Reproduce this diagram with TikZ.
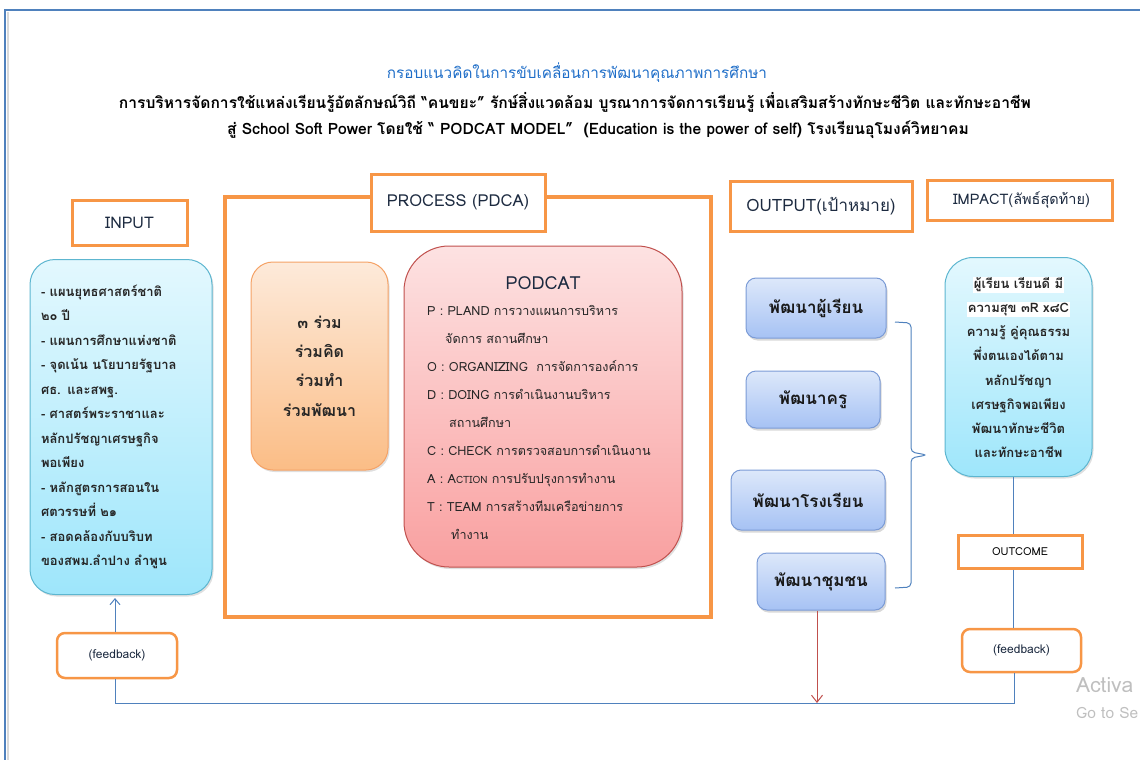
\documentclass[tikz,border=0pt]{standalone}
\usepackage{fontspec}
\setmainfont[Script=Thai]{Loma}
\usetikzlibrary{shadows,arrows.meta}
\definecolor{orng}{HTML}{F79646}
\definecolor{lnblue}{HTML}{4F81BD}
\definecolor{ttlblue}{HTML}{1F6EC8}
\definecolor{navy}{HTML}{1C2A40}
\definecolor{cyTop}{HTML}{E3F8FE}
\definecolor{cyBot}{HTML}{9EE6FB}
\definecolor{cyBrd}{HTML}{5DB6D0}
\definecolor{orTop}{HTML}{FDEADA}
\definecolor{orBot}{HTML}{FBBD86}
\definecolor{orBrd}{HTML}{F5A266}
\definecolor{pkTop}{HTML}{FDE2E2}
\definecolor{pkBot}{HTML}{F9A0A0}
\definecolor{pkBrd}{HTML}{C0504D}
\definecolor{blTop}{HTML}{DDE8FA}
\definecolor{blBot}{HTML}{A6C2F4}
\definecolor{blBrd}{HTML}{7B9BD6}
\definecolor{redarr}{HTML}{C0504D}
\tikzset{
  lbl/.style={draw=orng, line width=3pt, fill=white, text=navy, inner sep=0pt},
  cybox/.style={draw=cyBrd, line width=1pt, top color=cyTop, bottom color=cyBot, rounded corners=#1,
     drop shadow={opacity=0.25, shadow xshift=1.5pt, shadow yshift=-2pt}},
  outbox/.style={draw=blBrd, line width=1pt, top color=blTop, bottom color=blBot, rounded corners=10pt,
     drop shadow={opacity=0.3, shadow xshift=1.5pt, shadow yshift=-2.5pt},
     font=\fontsize{17}{20}\selectfont\bfseries, text=black!90, inner sep=0pt},
  fbbox/.style={draw=orng, line width=2.5pt, rounded corners=8pt, fill=white, text=navy,
     font=\fontsize{12}{14}\selectfont, inner sep=0pt},
  fline/.style={draw=lnblue, line width=1pt},
}
\begin{document}
\begin{tikzpicture}[x=1pt,y=-1pt]
\useasboundingbox (0,0) rectangle (1140,760);
\clip (0,0) rectangle (1140,760);
% frame
\draw[lnblue, line width=2pt] (5,760) -- (5,10) -- (1140,10);
\draw[black!15, line width=1.5pt] (8,760) -- (8,12);
% titles
\node[text=ttlblue, font=\fontsize{15.3}{18}\selectfont] (t1) at (577,73) {กรอบแนวคิดในการขับเคลื่อนการพัฒนาคุณภาพการศึกษา};
\node[font=\fontsize{15.6}{18}\selectfont\bfseries] (t2) at (575,102) {การบริหารจัดการใช้แหล่งเรียนรู้อัตลักษณ์วิถี “คนขยะ” รักษ์สิ่งแวดล้อม บูรณาการจัดการเรียนรู้ เพื่อเสริมสร้างทักษะชีวิต และทักษะอาชีพ};
\node[font=\fontsize{15.6}{18}\selectfont\bfseries] (t3) at (598,130) {สู่ School Soft Power โดยใช้ “ PODCAT MODEL”~~(Education is the power of self) โรงเรียนอุโมงค์วิทยาคม};
% process frame
\draw[orng, line width=4pt] (225,197) rectangle (711,617);
\node[lbl, minimum width=174pt, minimum height=57pt, font=\fontsize{16.5}{18}\selectfont] (proc) at (458,202.5) {PROCESS (PDCA)};
% labels
\node[lbl, minimum width=115pt, minimum height=45pt, font=\fontsize{16}{18}\selectfont] (inlbl) at (129.5,222.5) {INPUT};
\node[lbl, minimum width=182pt, minimum height=50pt, font=\fontsize{17}{19}\selectfont] (outlbl) at (821,206) {OUTPUT(เป้าหมาย)};
\node[lbl, minimum width=185pt, minimum height=40pt, font=\fontsize{14.5}{16}\selectfont] (implbl) at (1019.5,200) {\hspace*{4pt}IMPACT(ลัพธ์สุดท้าย)};
% input box
\node[cybox=25pt, minimum width=182pt, minimum height=335pt, text width=160pt, align=left,
      font=\fontsize{13}{24.5}\selectfont\bfseries, text=black!85, inner sep=0pt] (input) at (121,427)
 {- แผนยุทธศาสตร์ชาติ\\ ๒๐ ปี\\ - แผนการศึกษาแห่งชาติ\\ - จุดเน้น นโยบายรัฐบาล\\ ศธ. และสพฐ.\\ - ศาสตร์พระราชาและ\\ หลักปรัชญาเศรษฐกิจ\\ พอเพียง\\ - หลักสูตรการสอนใน\\ ศตวรรษที่ ๒๑\\ - สอดคล้องกับบริบท\\ ของสพม.ลำปาง ลำพูน};
% 3 ruam
\node[draw=orBrd, line width=1pt, top color=orTop, bottom color=orBot, rounded corners=22pt,
      drop shadow={opacity=0.25, shadow xshift=1.5pt, shadow yshift=-2pt},
      minimum width=137pt, minimum height=208pt, align=center,
      font=\fontsize{16}{29.3}\selectfont\bfseries, text=black!85, inner sep=0pt] (ruam) at (319.5,366)
 {๓ ร่วม\\ ร่วมคิด\\ ร่วมทำ\\ ร่วมพัฒนา};
% PODCAT
\node[draw=pkBrd, line width=1pt, top color=pkTop, bottom color=pkBot, rounded corners=45pt,
      drop shadow={opacity=0.25, shadow xshift=1.5pt, shadow yshift=-2pt},
      minimum width=278pt, minimum height=321pt] (podcat) at (543,406.5) {};
\node[text=navy, font=\fontsize{18}{20}\selectfont] (podhead) at (543,283) {PODCAT};
\node[anchor=north west, align=left, font=\fontsize{12.6}{28}\selectfont, text=black!85, inner sep=0pt] (poditems) at (427,305)
 {P : PLAND การวางแผนการบริหาร\\
  \hspace*{18pt}จัดการ สถานศึกษา\\
  O : ORGANIZING~~การจัดการองค์การ\\
  D : DOING การดำเนินงานบริหาร\\
  \hspace*{22pt}สถานศึกษา\\
  C : CHECK การตรวจสอบการดำเนินงาน\\
  A : A{\fontsize{10}{28}\selectfont CTION} การปรับปรุงการทำงาน\\
  T : TEAM การสร้างทีมเครือข่ายการ\\
  \hspace*{24pt}ทำงาน};
% outputs
\node[outbox, minimum width=140pt, minimum height=60pt] (o1) at (816,308) {พัฒนาผู้เรียน};
\node[outbox, minimum width=134pt, minimum height=57pt] (o2) at (813,399.5) {พัฒนาครู};
\node[outbox, minimum width=154pt, minimum height=60pt] (o3) at (808,500) {พัฒนาโรงเรียน};
\node[outbox, minimum width=128pt, minimum height=57pt] (o4) at (821,581.5) {พัฒนาชุมชน};
% brace
\coordinate (brT) at (895,322);
\coordinate (brB) at (895,588);
\coordinate (brP) at (927,455);
\draw[fline, rounded corners=4pt] (brT) -- (911,323) -- (911,452) -- (brP) -- (911,458) -- (911,587) -- (brB);
% impact
\node[cybox=28pt, minimum width=147pt, minimum height=219pt, align=center,
      font=\fontsize{13}{24.1}\selectfont\bfseries, text=black!85, inner sep=0pt] (impact) at (1018.5,367)
 {\setlength\fboxsep{1pt}\colorbox{white}{ผู้เรียน เรียนดี มี}\\ \setlength\fboxsep{1pt}\colorbox{white}{ความสุข ๓R x๘C}\\ ความรู้ คู่คุณธรรม\\ พึ่งตนเองได้ตาม\\ หลักปรัชญา\\ เศรษฐกิจพอเพียง\\ พัฒนาทักษะชีวิต\\ และทักษะอาชีพ};
% outcome + feedback
\node[draw=orng, line width=3pt, fill=white, minimum width=124pt, minimum height=33pt, inner sep=0pt,
      font=\fontsize{11}{13}\selectfont, text=black] (outcome) at (1020,551.5) {OUTCOME};
\node[fbbox, minimum width=119pt, minimum height=43pt] (fb2) at (1021.5,650.5) {(feedback)};
\node[fbbox, minimum width=120pt, minimum height=45pt] (fb1) at (117,655.5) {(feedback)};
% connectors
\coordinate (rx) at (1013,0);
\coordinate (lx) at (115,0);
\coordinate (botR) at (1014,703);
\coordinate (botL) at (115,703);
\coordinate (redEnd) at (817,703);
\draw[fline] (impact.south -| rx) -- (outcome.north -| rx);
\draw[fline] (outcome.south -| rx) -- (fb2.north -| rx);
\draw[fline] (fb2.south -| botR) -- (botR) -- (botL) -- (fb1.south -| botL);
\draw[fline, -{Straight Barb[length=6pt,width=10pt]}] (fb1.north -| lx) -- ([yshift=-3pt]input.south -| lx);
\draw[redarr, line width=1pt, -{Straight Barb[length=7pt,width=11pt]}] (o4.south -| redEnd) -- (redEnd);
% watermark (cut off at the picture's edge, as shown)
\node[anchor=west, text=black!25, font=\fontsize{21}{24}\selectfont, inner sep=0pt] (wm1) at (1076,685) {Activa};
\node[anchor=west, text=black!25, font=\fontsize{15.5}{18}\selectfont, inner sep=0pt] (wm2) at (1076,713) {Go to Se};
\end{tikzpicture}
\end{document}
